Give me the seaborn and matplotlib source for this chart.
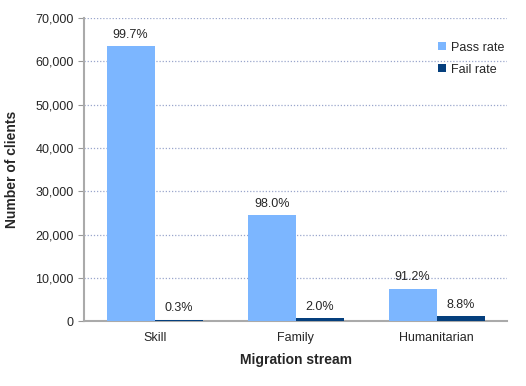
import pandas as pd
import matplotlib.pyplot as plt
import seaborn as sns

streams = ['Skill', 'Family', 'Humanitarian']
pass_clients = [63500, 24500, 7500]
fail_clients = [350, 650, 1100]
pass_pct = ['99.7%', '98.0%', '91.2%']
fail_pct = ['0.3%', '2.0%', '8.8%']

df = pd.DataFrame({
    'stream': streams * 2,
    'clients': pass_clients + fail_clients,
    'rate': ['Pass rate'] * 3 + ['Fail rate'] * 3,
})

sns.set_style('white')
plt.rcParams['font.family'] = ['Liberation Sans', 'DejaVu Sans']

fig = plt.figure(figsize=(5.26, 3.86), dpi=100)
ax = fig.add_axes([0.160, 0.168, 0.804, 0.785])

sns.barplot(data=df, x='stream', y='clients', hue='rate', ax=ax,
            palette={'Pass rate': '#7cb6ff', 'Fail rate': '#053f7d'},
            width=0.68, gap=0, saturation=1, zorder=3, linewidth=0)

for cont, labs in zip(ax.containers, [pass_pct, fail_pct]):
    ax.bar_label(cont, labels=labs, padding=4, fontsize=9)

ax.set_ylim(0, 70000)
ax.set_yticks(range(0, 70001, 10000))
ax.yaxis.set_major_formatter(plt.FuncFormatter(lambda v, p: f'{int(v):,}'))
ax.grid(axis='y', linestyle=(0, (1, 1.5)), color='#9aa6cc', linewidth=0.9, zorder=0)
ax.tick_params(axis='y', labelsize=9, length=4, direction='out', color='#999999', left=True)
ax.tick_params(axis='x', labelsize=9, length=0, pad=8)
for s in ['top', 'right']:
    ax.spines[s].set_visible(False)
for s in ['left', 'bottom']:
    ax.spines[s].set_color('#aaaaaa')
    ax.spines[s].set_linewidth(1.5)
    ax.spines[s].set_zorder(2)

ax.set_xlabel('Migration stream', fontsize=10, fontweight='bold', labelpad=6)
ax.set_ylabel('Number of clients', fontsize=10, fontweight='bold', labelpad=12)

ax.legend(title=None, frameon=False, loc='upper right', fontsize=9,
          bbox_to_anchor=(1.02, 0.96), handlelength=0.6, handleheight=0.6,
          handletextpad=0.4, labelspacing=0.8)

fig.savefig('out.png', dpi=100)
